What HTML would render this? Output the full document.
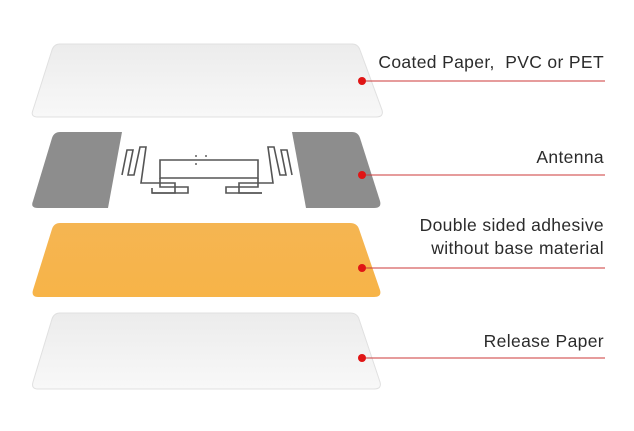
<!DOCTYPE html>
<html><head><style>
html,body{margin:0;padding:0;background:#fff;}
svg{display:block;}
text{font-family:"Liberation Sans",sans-serif;font-size:17.5px;letter-spacing:0.35px;fill:#2b2b2b;}
</style></head><body>
<svg width="634" height="431" viewBox="0 0 634 431" xmlns="http://www.w3.org/2000/svg">
<defs>
<linearGradient id="w" x1="0" y1="0" x2="0" y2="1"><stop offset="0" stop-color="#ececec"/><stop offset="1" stop-color="#f8f8f8"/></linearGradient>
<linearGradient id="o" x1="0" y1="0" x2="0" y2="1"><stop offset="0" stop-color="#f5b552"/><stop offset="1" stop-color="#f7b448"/></linearGradient>
</defs>
<path d="M60,44 L352,44 Q358,44 360,50 L382,110 Q384,117 376,117 L38,117 Q30,117 33,110 L52,50 Q54,44 60,44Z" fill="url(#w)" stroke="#e0e0e0" stroke-width="1"/>
<path d="M60,132 L122,132 L108,208 L38,208 Q30,208 33,201 L52,138 Q54,132 60,132Z" fill="#8d8d8d"/>
<path d="M292,132 L352,132 Q358,132 360,138 L380,201 Q382,208 374,208 L306,208Z" fill="#8d8d8d"/>
<g fill="none" stroke="#555" stroke-width="1.6">
<path d="M122,175 L127,150 L133,150 L128,175 L134,175 L140,147 L146,147 L141,183 L175,183 L175,193 L152,193 L152,188"/>
<path d="M292,175 L287,150 L281,150 L286,175 L280,175 L274,147 L268,147 L273,183 L239,183 L239,193 L262,193"/>
<path d="M160,160 L258,160 L258,178 L160,178Z"/>
<path d="M160,178 L160,187 L188,187 L188,193 L152,193"/>
<path d="M258,178 L258,187 L226,187 L226,193 L262,193"/>
</g>
<circle cx="196" cy="156" r="0.9" fill="#333"/><circle cx="206" cy="156" r="0.9" fill="#333"/><circle cx="196" cy="164" r="0.9" fill="#333"/>
<path d="M60,223 L350,223 Q357,223 359,229 L380,290 Q382,297 374,297 L38,297 Q31,297 33,290 L52,229 Q54,223 60,223Z" fill="url(#o)"/>
<path d="M60,313 L350,313 Q357,313 359,319 L380,382 Q382,389 374,389 L38,389 Q31,389 33,382 L52,319 Q54,313 60,313Z" fill="url(#w)" stroke="#e0e0e0" stroke-width="1"/>
<g stroke="#cc3a3a" stroke-width="1">
<line x1="362" y1="81" x2="605" y2="81"/>
<line x1="362" y1="175" x2="605" y2="175"/>
<line x1="362" y1="268" x2="605" y2="268"/>
<line x1="362" y1="358" x2="605" y2="358"/>
</g>
<g fill="#e01515">
<circle cx="362" cy="81" r="4"/><circle cx="362" cy="175" r="4"/><circle cx="362" cy="268" r="4"/><circle cx="362" cy="358" r="4"/>
</g>
<g text-anchor="end">
<text x="604" y="68" xml:space="preserve">Coated Paper,  PVC or PET</text>
<text x="604" y="163">Antenna</text>
<text x="604" y="231">Double sided adhesive</text>
<text x="604" y="254">without base material</text>
<text x="604" y="347">Release Paper</text>
</g>
</svg>
</body></html>
